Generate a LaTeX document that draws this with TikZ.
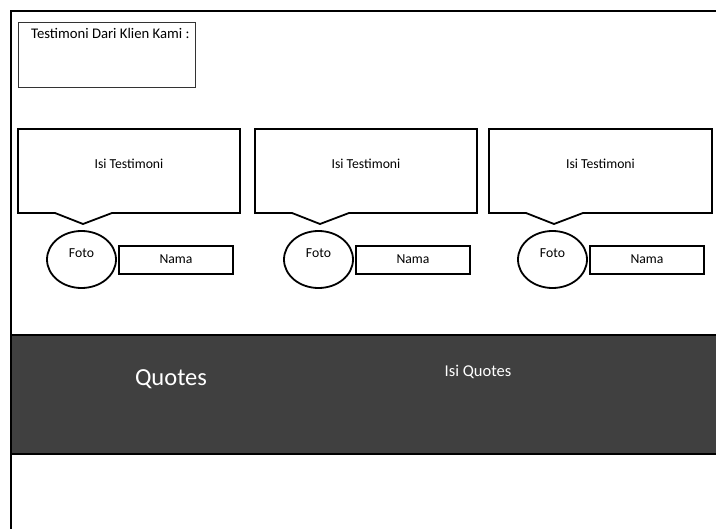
\documentclass[tikz,border=0pt]{standalone}
\usepackage{fontspec}
\setmainfont{Carlito}
\usetikzlibrary{shapes.geometric}
\definecolor{band}{HTML}{404040}
\tikzset{
  frame/.style={line width=2.2pt, draw=black},
  thinbox/.style={draw=black!80, line width=0.9pt},
  bubble/.style={draw=black, line width=1.8pt, line join=miter},
  photo/.style={draw=black, line width=1.8pt, ellipse, minimum width=69pt, minimum height=57pt, inner sep=0pt},
  namebox/.style={draw=black, line width=1.8pt, rectangle, minimum width=114pt, minimum height=28pt, inner sep=0pt},
  label/.style={font=\fontsize{13.7}{16}\selectfont, inner sep=0pt, anchor=base},
}
\begin{document}
\begin{tikzpicture}[x=1pt, y=-1pt]
\useasboundingbox (0,0) rectangle (716,529);

% dark quotes band
\fill[band] (11,335) rectangle (716,454);
\draw[frame] (11,335) -- (716,335);
\draw[frame] (11,454) -- (716,454);
\node[font=\fontsize{24.5}{28}\selectfont, text=white, inner sep=0pt] (quotes) at (171,379) {Quotes};
\node[font=\fontsize{16.5}{20}\selectfont, text=white, inner sep=0pt] (isiquotes) at (478,372) {Isi Quotes};

% page frame (open on the right and bottom)
\draw[frame] (11,529) -- (11,11) -- (716,11);

% heading box
\draw[thinbox] (18,22) rectangle (195,87);
\node[font=\fontsize{14.7}{17}\selectfont, anchor=base west, inner sep=0pt] (heading) at (31,39) {Testimoni Dari Klien Kami :};

% three testimonial cards
\foreach \i/\dx/\w in {1/0/222, 2/237/222, 3/471/223} {
  \begin{scope}[xshift=\dx pt]
    \draw[bubble] (18,129) -- (18+\w,129) -- (18+\w,213) -- (112,213) -- (83,224) -- (55,213) -- (18,213) -- cycle;
    \node[label] (isi\i) at (18+\w/2,169) {Isi Testimoni};
    \node[photo] (foto\i) at (81.5,259.5) {};
    \node[label] at (81.5,258) (fototext\i) {Foto};
    \node[namebox] (nama\i) at (176,260) {};
    \node[label] at (176,264) (namatext\i) {Nama};
  \end{scope}
}
\end{tikzpicture}
\end{document}
